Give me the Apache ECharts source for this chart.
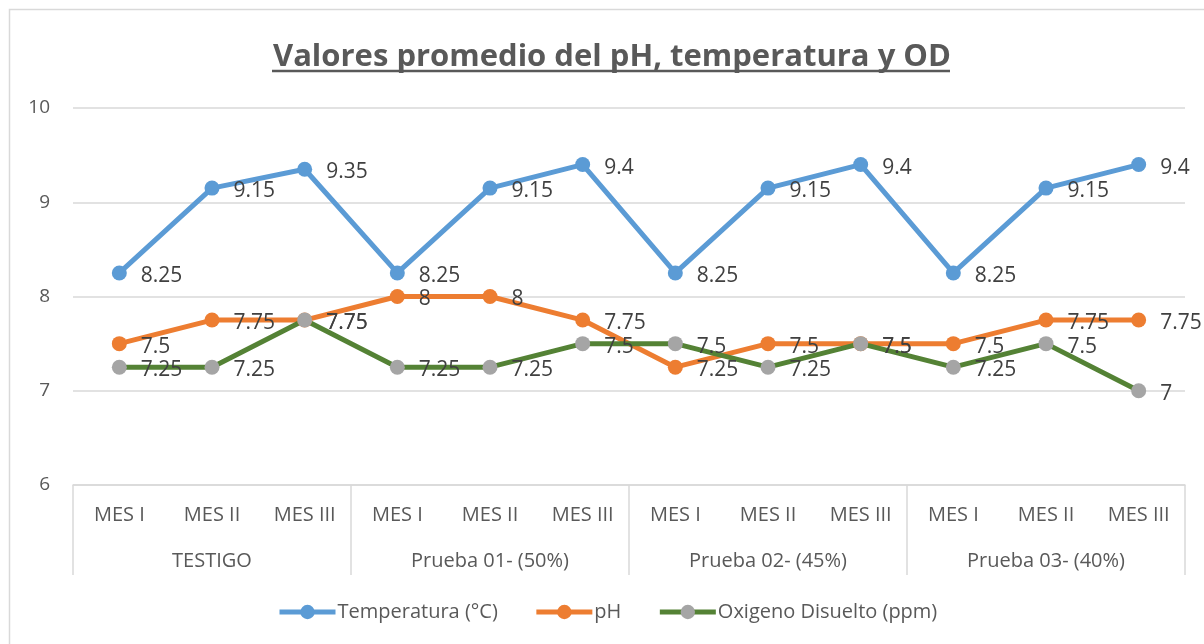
<!DOCTYPE html>
<html>
<head>
<meta charset="utf-8">
<script src="https://cdn.jsdelivr.net/npm/echarts@6/dist/echarts.min.js"></script>
<style>html,body{margin:0;padding:0;background:#fff}#c{width:1204px;height:644px}</style>
</head>
<body>
<div id="c"></div>
<script>
const months = ['MES I','MES II','MES III','MES I','MES II','MES III','MES I','MES II','MES III','MES I','MES II','MES III'];
const groups = ['TESTIGO','Prueba 01- (50%)','Prueba 02- (45%)','Prueba 03- (40%)'];
const temperatura = [8.25, 9.15, 9.35, 8.25, 9.15, 9.4, 8.25, 9.15, 9.4, 8.25, 9.15, 9.4];
const ph = [7.5, 7.75, 7.75, 8, 8, 7.75, 7.25, 7.5, 7.5, 7.5, 7.75, 7.75];
const oxigeno = [7.25, 7.25, 7.75, 7.25, 7.25, 7.5, 7.5, 7.25, 7.5, 7.25, 7.5, 7];
const yTicks = [6, 7, 8, 9, 10];

const FONT = '"Open Sans", Lato, sans-serif';
const TXT = '#595959';

const chart = echarts.init(document.getElementById('c'), null, {renderer: 'canvas'});

function mkSeries(name, data, lineColor, markerColor) {
  return {
    name, type: 'line', data,
    xAxisIndex: 0, yAxisIndex: 0,
    symbol: 'circle', symbolSize: 15,
    lineStyle: {width: 5, color: lineColor},
    itemStyle: {color: markerColor, borderWidth: 0},
    label: {
      show: true, position: 'right', distance: 14, offset: [0, 3],
      fontFamily: FONT, fontSize: 21, color: '#404040'
    },
    emphasis: {disabled: true},
    animation: false
  };
}

chart.setOption({
  backgroundColor: '#fff',
  animation: false,
  title: {
    text: 'Valores promedio del pH, temperatura y OD',
    left: 268, top: 37,
    textStyle: {fontFamily: FONT, fontSize: 31, fontWeight: 'bold', color: TXT}
  },
  graphic: [
    {type: 'rect', shape: {x: 9.5, y: 9.5, width: 1300, height: 700}, style: {fill: 'none', stroke: '#D9D9D9', lineWidth: 1.5}, silent: true},
    {type: 'line', shape: {x1: 272, y1: 71, x2: 950, y2: 71}, style: {stroke: TXT, lineWidth: 2.5}, silent: true}
  ],
  legend: {
    bottom: 17, left: 272,
    itemWidth: 56, itemHeight: 18, itemGap: 36,
    lineStyle: {width: 5},
    textStyle: {fontFamily: FONT, fontSize: 20, color: TXT, padding: [0, 0, 0, -3]},
    data: ['Temperatura (°C)', 'pH', 'Oxigeno Disuelto (ppm)']
  },
  grid: {left: 73, right: 19, top: 108, bottom: 159, containLabel: false},
  xAxis: [
    {
      type: 'category', data: months, position: 'bottom', boundaryGap: true,
      axisLine: {show: true, lineStyle: {color: '#D9D9D9', width: 1.5}},
      axisTick: {show: false},
      axisLabel: {fontFamily: FONT, fontSize: 20, color: TXT, margin: 20, interval: 0}
    },
    {
      type: 'category', data: groups, position: 'bottom', offset: 90, boundaryGap: true,
      axisLine: {show: false},
      axisTick: {show: true, inside: true, length: 90, lineStyle: {color: '#D9D9D9', width: 1.5}},
      axisLabel: {inside: true, fontFamily: FONT, fontSize: 20, color: TXT, margin: 4, interval: 0},
      splitLine: {show: false}
    }
  ],
  yAxis: {
    type: 'value', min: yTicks[0], max: yTicks[yTicks.length - 1], interval: 1,
    axisLine: {show: false}, axisTick: {show: false},
    axisLabel: {fontFamily: FONT, fontSize: 19, color: TXT, margin: 23},
    splitLine: {lineStyle: {color: '#D9D9D9', width: 1.5}}
  },
  series: [
    mkSeries('Temperatura (°C)', temperatura, '#5B9BD5', '#5B9BD5'),
    mkSeries('pH', ph, '#ED7D31', '#ED7D31'),
    mkSeries('Oxigeno Disuelto (ppm)', oxigeno, '#548235', '#A5A5A5')
  ]
});
</script>
</body>
</html>
